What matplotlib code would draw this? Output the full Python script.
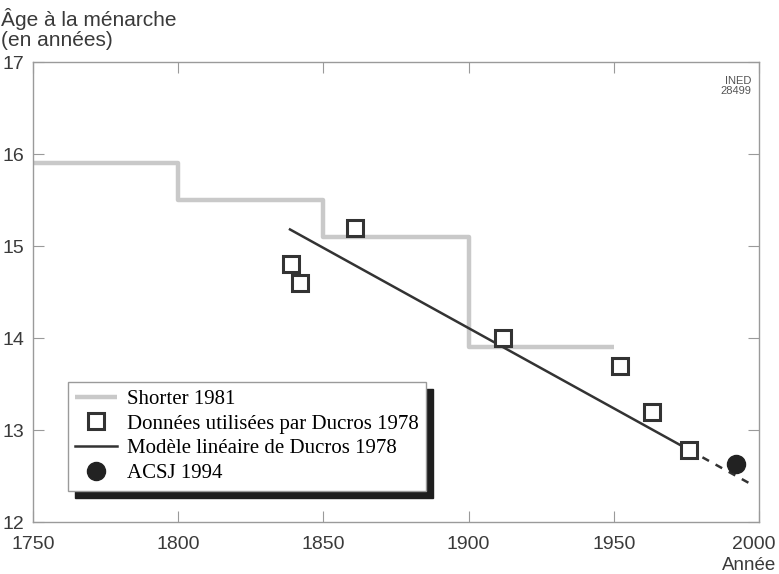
import numpy as np
import matplotlib
matplotlib.use("Agg")
import matplotlib.pyplot as plt
import matplotlib.transforms as mtransforms
from matplotlib.patches import Rectangle

# Shorter 1981 (step series)
shorter_years = [1750, 1800, 1850, 1900, 1950]
shorter_ages = [15.9, 15.5, 15.1, 13.9, 13.9]

# data used by Ducros 1978
ducros_years = [1839, 1842, 1861, 1912, 1952, 1963, 1976]
ducros_ages = [14.8, 14.6, 15.2, 14.0, 13.7, 13.2, 12.78]

# linear model of Ducros 1978
model_start, model_end, model_extrap = 1838.5, 1976, 1998
model_a0, model_slope = 15.18, -0.01744   # age at model_start, per year

# ACSJ 1994
acsj_year = [1992]
acsj_age = [12.63]

txt = "#3a3a3a"
fig = plt.figure(figsize=(7.79, 5.74), dpi=100)
ax = fig.add_axes([33/779, 1-522/574, 726/779, 460/574])

ax.step(shorter_years, shorter_ages, where="post", color="#c9c9c9", lw=3.2,
        label="Shorter 1981", solid_capstyle="butt", zorder=2)

xs = np.array([model_start, model_end])
ax.plot(xs, model_a0 + model_slope*(xs-model_start), color="#333333", lw=1.8,
        label="Modèle linéaire de Ducros 1978", zorder=3)
xd = np.array([model_end, model_extrap])
ax.plot(xd, model_a0 + model_slope*(xd-model_start), color="#333333", lw=1.8,
        ls=(0, (3, 3)), zorder=3)

ax.plot(ducros_years, ducros_ages, ls="none", marker="s", ms=12, mfc="white",
        mec="#333333", mew=2.2, label="Données utilisées par Ducros 1978", zorder=4)
ax.plot(acsj_year, acsj_age, ls="none", marker="o", ms=13, color="#222222",
        label="ACSJ 1994", zorder=4)

ax.set_xlim(1750, 2000)
ax.set_ylim(12, 17)
ax.set_xticks(np.arange(1750, 2001, 50))
ax.set_yticks(np.arange(12, 17.1, 1))
for s in ax.spines.values():
    s.set_color("#9a9a9a")
    s.set_linewidth(1)
ax.tick_params(direction="in", length=8, color="#9a9a9a", top=True, right=True,
               labelsize=14, labelcolor=txt)
ax.tick_params(axis="x", pad=10)
ax.tick_params(axis="y", pad=6)
for lab in ax.get_xticklabels() + ax.get_yticklabels():
    lab.set_family("Liberation Sans")
# last x label sits a bit left so it stays inside the figure
last = ax.get_xticklabels()[-1]
last.set_transform(last.get_transform() +
                   mtransforms.ScaledTranslation(-5/100, 0, fig.dpi_scale_trans))

fig.text(1/779, 1-29/574, "Âge à la ménarche\n(en années)", family="Liberation Sans",
         fontsize=15, color=txt, va="center", ha="left", linespacing=1.0)
fig.text(776/779, 1-565/574, "Année", family="Liberation Sans", fontsize=13.5,
         color=txt, ha="right", va="center")
ax.text(0.99, 0.97, "INED\n28499", transform=ax.transAxes, ha="right", va="top",
        family="Liberation Sans", fontsize=8, color="#555555", linespacing=1.0)

h, l = ax.get_legend_handles_labels()
order = [0, 2, 1, 3]
leg = ax.legend([h[i] for i in order], [l[i] for i in order],
                loc="upper left", bbox_to_anchor=(35/726, (522-382)/460),
                prop={"family": "Liberation Serif", "size": 15},
                frameon=True, fancybox=False, edgecolor="#9a9a9a",
                facecolor="white", framealpha=1,
                borderpad=0.35, labelspacing=0.25, handlelength=2.0,
                handletextpad=0.5, borderaxespad=0)
leg.get_frame().set_linewidth(1)
leg.set_zorder(6)

fig.canvas.draw()
bb = leg.get_window_extent().transformed(ax.transAxes.inverted())
dx, dy = 7/726, 7/460
ax.add_patch(Rectangle((bb.x0 + dx, bb.y0 - dy), bb.width, bb.height,
                       transform=ax.transAxes, color="#1e1e1e", zorder=5.5))

fig.savefig("out.png", dpi=100)
